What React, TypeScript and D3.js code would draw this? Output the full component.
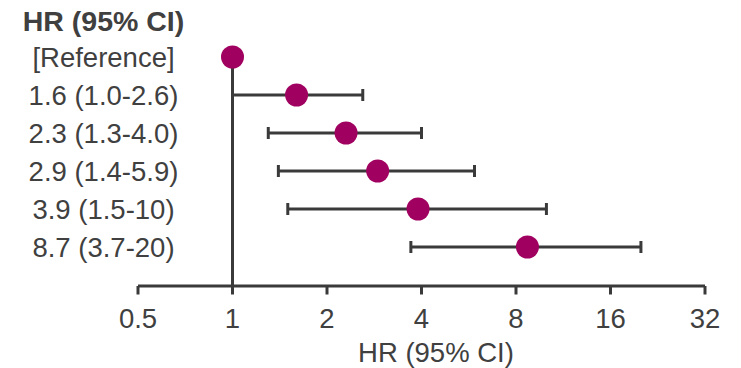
import React from "react";
import * as d3 from "d3";

// Hazard ratios with 95% confidence intervals, one row per group
const rowLabels = [
  "[Reference]",
  "1.6 (1.0-2.6)",
  "2.3 (1.3-4.0)",
  "2.9 (1.4-5.9)",
  "3.9 (1.5-10)",
  "8.7 (3.7-20)",
];
const hrValues = [1, 1.6, 2.3, 2.9, 3.9, 8.7];
const ciLower: (number | null)[] = [null, 1.0, 1.3, 1.4, 1.5, 3.7];
const ciUpper: (number | null)[] = [null, 2.6, 4.0, 5.9, 10, 20];
const tickValues = [0.5, 1, 2, 4, 8, 16, 32];
const tickLabels = ["0.5", "1", "2", "4", "8", "16", "32"];

const W = 741;
const H = 368;
const FONT = "'Liberation Sans', Arial, sans-serif";
const INK = "#3a3a3a";
const TEXT = "#404040";
const DOT = "#A0005F";

export default function App() {
  const x = d3.scaleLog().base(2).domain([0.5, 32]).range([138, 705]);
  const y = d3
    .scalePoint<number>()
    .domain(d3.range(rowLabels.length))
    .range([57, 247]);
  const axisY = 286;
  const labelX = 103.5;
  const capH = 6;

  return (
    <svg
      width={W}
      height={H}
      style={{ position: "absolute", left: 0, top: 0, background: "#fff" }}
      fontFamily={FONT}
    >
      {/* column header */}
      <text
        x={labelX}
        y={31}
        textAnchor="middle"
        fontSize={28.5}
        fontWeight="bold"
        fill={TEXT}
      >
        HR (95% CI)
      </text>

      {/* row labels */}
      {rowLabels.map((t, i) => (
        <text
          key={t}
          x={labelX}
          y={(y(i) as number) + 10}
          textAnchor="middle"
          fontSize={27.5}
          fill={TEXT}
        >
          {t}
        </text>
      ))}

      {/* reference line at HR = 1 */}
      <line
        x1={x(1)}
        x2={x(1)}
        y1={y(0) as number}
        y2={axisY}
        stroke={INK}
        strokeWidth={3}
      />

      {/* x axis */}
      <line x1={x(0.5)} x2={x(32)} y1={axisY} y2={axisY} stroke={INK} strokeWidth={3} />
      {tickValues.map((v, i) => (
        <g key={v}>
          <line
            x1={x(v)}
            x2={x(v)}
            y1={axisY}
            y2={axisY + 8.5}
            stroke={INK}
            strokeWidth={3}
          />
          <text
            x={x(v)}
            y={327.5}
            textAnchor="middle"
            fontSize={27.5}
            fill={TEXT}
          >
            {tickLabels[i]}
          </text>
        </g>
      ))}
      <text x={436} y={362} textAnchor="middle" fontSize={27.5} fill={TEXT}>
        HR (95% CI)
      </text>

      {/* confidence intervals */}
      {hrValues.map((_, i) => {
        const lo = ciLower[i];
        const hi = ciUpper[i];
        if (lo == null || hi == null) return null;
        const yy = y(i) as number;
        return (
          <g key={"ci" + i} stroke={INK} strokeWidth={3}>
            <line x1={x(lo)} x2={x(hi)} y1={yy} y2={yy} />
            <line x1={x(lo)} x2={x(lo)} y1={yy - capH} y2={yy + capH} />
            <line x1={x(hi)} x2={x(hi)} y1={yy - capH} y2={yy + capH} />
          </g>
        );
      })}

      {/* point estimates */}
      {hrValues.map((v, i) => (
        <circle key={"pt" + i} cx={x(v)} cy={y(i) as number} r={11.5} fill={DOT} />
      ))}
    </svg>
  );
}
